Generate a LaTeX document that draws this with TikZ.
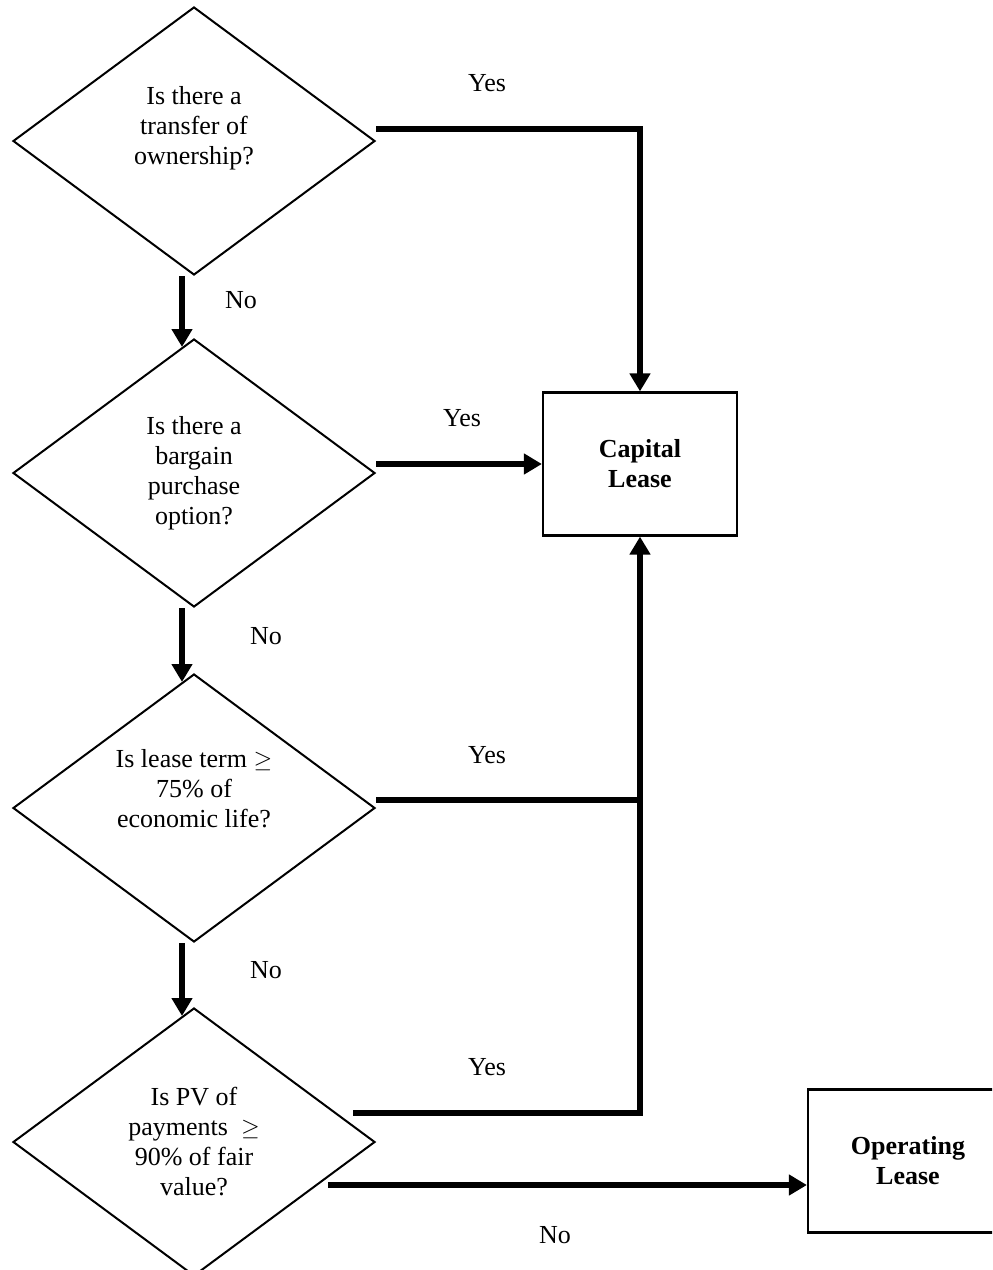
\documentclass[tikz,border=0pt]{standalone}
\usepackage{fontspec}
\setmainfont{Liberation Serif}
\usetikzlibrary{shapes.geometric,arrows.meta}

\tikzset{
  question/.style={draw,diamond,aspect=1.35,line width=1pt,inner sep=0pt,
    minimum width=181pt,minimum height=134pt,align=center},
  outcome/.style={draw,rectangle,line width=1.1pt,minimum width=97pt,
    minimum height=71.5pt,align=center,font=\fontsize{13}{15}\selectfont\bfseries},
  flow/.style={line width=2.6pt,-{Triangle[width=10pt,length=9pt]}},
}

\begin{document}
\begin{tikzpicture}[x=0.5pt,y=-0.5pt,font=\fontsize{13}{15}\selectfont]%
  \useasboundingbox (0,0) rectangle (992,1270);%
  \clip (0,0) rectangle (992,1270);%
  % questions
  \node[question] (Q-1) at (194,141) {Is there a\\ transfer of\\ ownership?\\[-4pt]\strut};
  \node[question] (Q-2) at (194,473) {Is there a\\ bargain\\ purchase\\ option?};
  \node[question] (Q-3) at (194,808) {Is lease term $\geq$\\ 75\% of\\ economic life?\\ \strut};
  \node[question] (Q-4) at (194,1142) {Is PV of\\ payments $\;\geq$\\ 90\% of fair\\ value?};
  % outcomes
  \node[outcome] (capital) at (640,464) {Capital\\ Lease};
  \node[outcome, minimum width=100pt] (operating) at (908,1161) {Operating\\ Lease};
  % no: down to the next question
  \foreach \a [count=\b from 2] in {1,2,3}{%
    \draw[flow] ([shift={(-12,0)}]Q-\a.south) -- ([shift={(-12,9)}]Q-\b.north);
  }
  % yes: to capital lease
  \draw[flow] ([shift={(0,-12)}]Q-1.east) -| (capital.north);
  \coordinate (yes-2) at ([shift={(0,-9)}]Q-2.east);
  \draw[flow] (yes-2) -- (yes-2 -| capital.west);
  \coordinate (yes-3) at ([shift={(0,-8)}]Q-3.east);
  \draw[flow,-] (yes-3) -- (yes-3 -| capital.south);
  \draw[flow] ([shift={(-23,-29)}]Q-4.east) -| (capital.south);
  % no: to operating lease
  \coordinate (no-4) at ([shift={(-48,43)}]Q-4.east);
  \draw[flow] (no-4) -- (no-4 -| operating.west);
  % labels
  \foreach \i/\x/\y in {1/487/83,2/462/418,3/487/755,4/487/1067}{%
    \node (yes-lbl-\i) at (\x,\y) {Yes};
  }
  \foreach \i/\x/\y in {1/241/300,2/266/636,3/266/970,4/555/1235}{%
    \node (no-lbl-\i) at (\x,\y) {No};
  }
\end{tikzpicture}
\end{document}
